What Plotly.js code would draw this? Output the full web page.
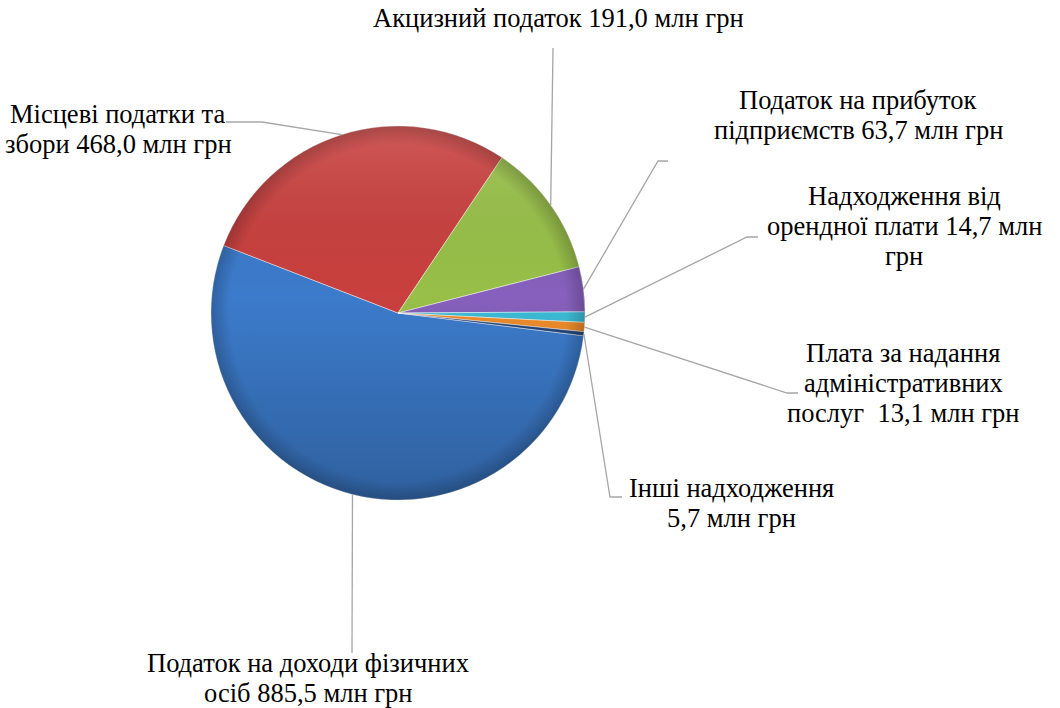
<!DOCTYPE html>
<html><head><meta charset="utf-8">
<script src="https://cdn.plot.ly/plotly-3.0.1.min.js"></script>
<style>
html,body{margin:0;padding:0;background:#fff}
#chart text.annotation-text{font-family:"Liberation Serif","Times New Roman","DejaVu Serif",serif !important;}
</style>
</head><body><div id="chart" style="width:1060px;height:708px"></div>
<script>
// ---- data ----
const categories = [
  "Податок на доходи фізичних осіб",
  "Місцеві податки та збори",
  "Акцизний податок",
  "Податок на прибуток підприємств",
  "Надходження від орендної плати",
  "Плата за надання адміністративних послуг",
  "Інші надходження"
];
const values = [885.5, 468.0, 191.0, 63.7, 14.7, 13.1, 5.7];
const labelFormats = [
  ["Податок на доходи фізичних", "осіб {v} млн грн"],
  ["Місцеві податки та", "збори {v} млн грн"],
  ["Акцизний податок {v} млн грн"],
  ["Податок на прибуток", "підприємств {v} млн грн"],
  ["Надходження від", "орендної плати {v} млн", "грн"],
  ["Плата за надання", "адміністративних", "послуг\u00a0 {v} млн грн"],
  ["Інші надходження", "{v} млн грн"]
];
const colors = ["#3C7BCB", "#C9403E", "#98C048", "#8660BC", "#3DBBD6", "#EE8C2C", "#26477A"];

// ---- layout (pixels) ----
const W = 1060, H = 708, CX = 398, CY = 313, R = 187, ROT = 97;
const FONT_SIZE = 26.5, LINE_GAP = 30;
const labelX = [308, 118, 558, 858, 904, 903, 731];
const firstBaseline = [672, 123, 27, 109, 205, 362, 497];
const leaderBends = [
  [[352, 653]],
  [[226, 122], [262, 122]],
  [[553, 48]],
  [[668, 161], [658, 161]],
  [[758, 237], [747, 237]],
  [[798, 393], [787, 393]],
  [[622, 497], [610, 497]]
];

const px = x => x / W, py = y => 1 - y / H;
const total = values.reduce((a, b) => a + b, 0);
let acc = 0;
const mids = values.map(v => { const m = ROT + (acc + v / 2) / total * 360; acc += v; return m; });
function edge(deg) { const a = deg * Math.PI / 180; return [CX + R * Math.sin(a), CY - R * Math.cos(a)]; }

const fmt = v => v.toFixed(1).replace('.', ',');
const annotations = [];
labelFormats.forEach((lines, i) => {
  lines.forEach((ln, k) => {
    const base = firstBaseline[i] + k * LINE_GAP;
    annotations.push({
      x: px(labelX[i]), y: py(base - 0.33 * FONT_SIZE), xref: 'paper', yref: 'paper',
      xanchor: 'center', yanchor: 'middle', align: 'center', showarrow: false,
      text: ln.replace('{v}', fmt(values[i])),
      font: {family: 'Liberation Serif', size: FONT_SIZE, color: '#000'}
    });
  });
});

const shapes = mids.map((m, i) => {
  const pts = leaderBends[i].concat([edge(m)]);
  const d = pts.map((p, k) => (k ? 'L' : 'M') + px(p[0]).toFixed(5) + ',' + py(p[1]).toFixed(5)).join(' ');
  return {type: 'path', xref: 'paper', yref: 'paper', path: d, line: {color: '#A6A6A6', width: 1.3}};
});

const svg = "<svg xmlns='http://www.w3.org/2000/svg' width='400' height='400' viewBox='0 0 400 400'><defs>" +
  "<linearGradient id='g' x1='0' y1='0' x2='0' y2='1'><stop offset='0' stop-color='#fff' stop-opacity='0.14'/><stop offset='0.45' stop-color='#000' stop-opacity='0'/><stop offset='1' stop-color='#000' stop-opacity='0.22'/></linearGradient>" +
  "<radialGradient id='r' cx='0.5' cy='0.5' r='0.5'><stop offset='0.9' stop-color='#000' stop-opacity='0'/><stop offset='1' stop-color='#000' stop-opacity='0.2'/></radialGradient></defs>" +
  "<circle cx='200' cy='200' r='200' fill='url(#g)'/><circle cx='200' cy='200' r='200' fill='url(#r)'/></svg>";

const trace = {
  type: 'pie', labels: categories, values: values, sort: false, direction: 'clockwise',
  rotation: ROT, textinfo: 'none', hoverinfo: 'label+value',
  marker: {colors: colors, line: {color: 'rgba(255,255,255,0.45)', width: 1}},
  domain: {x: [(CX - R) / W, (CX + R) / W], y: [1 - (CY + R) / H, 1 - (CY - R) / H]},
  showlegend: false
};

const layout = {
  width: W, height: H, margin: {l: 0, r: 0, t: 0, b: 0},
  paper_bgcolor: '#fff', plot_bgcolor: '#fff', showlegend: false,
  font: {family: 'Liberation Serif', size: FONT_SIZE, color: '#000'},
  annotations: annotations, shapes: shapes,
  images: [{source: 'data:image/svg+xml;charset=utf-8,' + encodeURIComponent(svg),
    xref: 'paper', yref: 'paper', x: px(CX - R), y: py(CY - R), sizex: 2 * R / W, sizey: 2 * R / H,
    xanchor: 'left', yanchor: 'top', sizing: 'stretch', layer: 'above'}]
};

Plotly.newPlot('chart', [trace], layout, {displayModeBar: false});
</script></body></html>
